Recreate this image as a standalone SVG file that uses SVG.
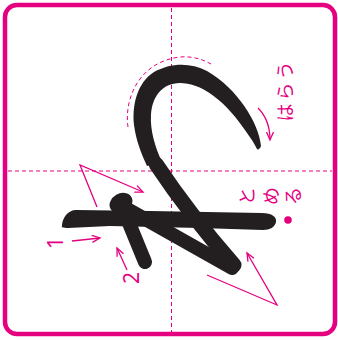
<svg xmlns="http://www.w3.org/2000/svg" width="338" height="340" viewBox="0 0 338 340">
<style>
.frame{fill:#fff;stroke:#E5007F;stroke-width:4.5}
.guide{fill:none;stroke:#E5007F;stroke-width:1;stroke-dasharray:4 3}
.ink{fill:#231F20}
.inkline{fill:none;stroke:#231F20;stroke-linecap:round;stroke-linejoin:round}
.arrow{fill:none;stroke:#E5007F;stroke-width:1.3;marker-end:url(#ah)}
.lbl{fill:#E5007F;font-family:"Noto Sans CJK JP","Noto Sans",sans-serif;font-size:18px}
.num{fill:#E5007F;font-family:"Noto Sans","Liberation Sans",sans-serif;font-size:21px}
</style>
<defs>
<marker id="ah" markerUnits="userSpaceOnUse" markerWidth="12" markerHeight="12" viewBox="-10 -6 12 12" refX="0" refY="0" orient="auto" overflow="visible">
<path d="M-8,-3.5 L0,0 L-8,3.5" fill="none" stroke="#E5007F" stroke-width="1.3"/>
</marker>
</defs>
<rect width="338" height="340" fill="#fff"/>
<rect class="frame" x="5" y="5" width="330" height="329" rx="12"/>
<g id="guides">
<line class="guide" x1="171.5" y1="8" x2="171.5" y2="332"/>
<line class="guide" x1="8" y1="171" x2="332" y2="171"/>
<path class="guide" d="M128,127 C124,100 138,62 180,57 C192,56 202,59 211,64"/>
</g>
<g id="stroke1">
<path class="ink" d="M62,226 C62,218 68,210 76,210 L150,211 L262,213 C272,213 277,217 276,222 C275,227 270,230 263,230 L200,228 L110,226 L68,228 C63,228 61,227 62,226 Z"/>
</g>
<g id="stroke2">
<path class="inkline" stroke-width="14" d="M145,262 L122,206 L232,268"/>
<ellipse class="ink" cx="121" cy="203" rx="12" ry="9.5" transform="rotate(-30 121 203)"/>
<path class="ink" d="M261,146 C259,123 237,88 207,71 C190,62 170,63 154,72 C137,83 132,105 134,125 C136,140 141,153 147,166 L162,162 C155,147 150,130 151,115 C152,97 162,83 180,83 C200,83 220,98 236,118 C246,131 253,141 257,149 C258,150 260,149 261,146 Z"/>
<path class="inkline" stroke-width="15" d="M156,164 Q190,215 234,265"/>
</g>
<g id="connectors">
<path class="arrow" d="M72,241 L100,238"/>
<path class="arrow" d="M127,270 L117,248"/>
<path class="arrow" d="M97,207 L80,165 L143,192"/>
<path class="arrow" d="M207,275 L277,305 L247,253"/>
<path class="arrow" d="M258,108 Q270,120 270,140"/>
</g>
<g id="labels">
<circle cx="288" cy="220" r="3.8" fill="#E5007F"/>
<text class="lbl" transform="translate(284,90) rotate(-90)" text-anchor="middle" dominant-baseline="central" letter-spacing="3">はらう</text>
<text class="lbl" transform="translate(246,196) rotate(-90)" text-anchor="middle" dominant-baseline="central">と</text>
<text class="lbl" transform="translate(270,196) rotate(-90)" text-anchor="middle" dominant-baseline="central">め</text>
<text class="lbl" transform="translate(292,196) rotate(-90)" text-anchor="middle" dominant-baseline="central">る</text>
<text class="num" transform="translate(55,243) rotate(-90)" text-anchor="middle" dominant-baseline="central">1</text>
<text class="num" transform="translate(131,278) rotate(-90)" text-anchor="middle" dominant-baseline="central">2</text>
</g>
</svg>
